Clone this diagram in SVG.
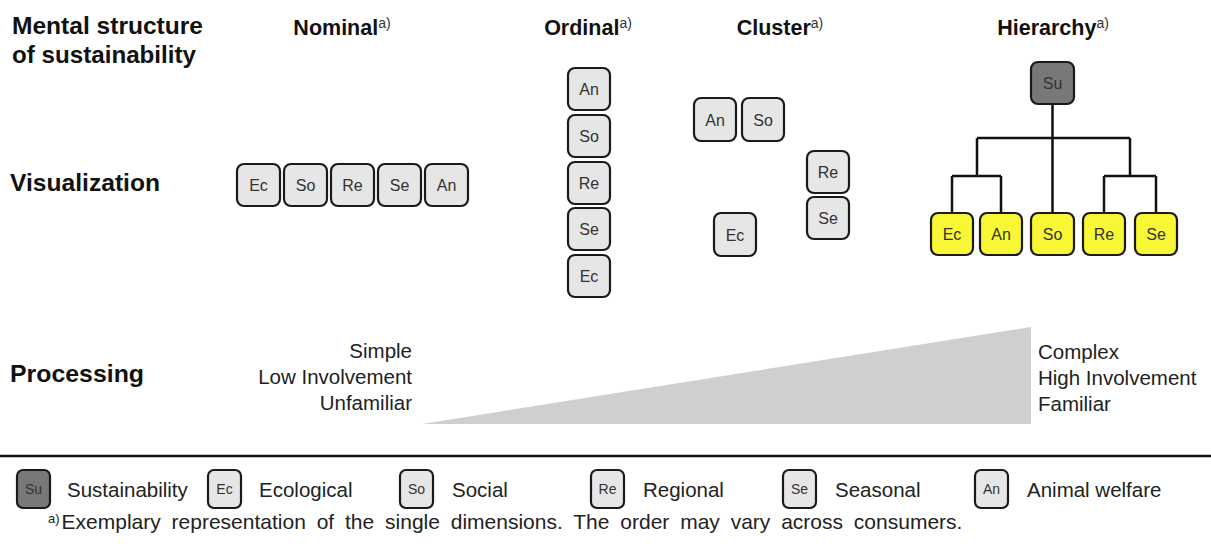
<svg xmlns="http://www.w3.org/2000/svg" width="1211" height="549" viewBox="0 0 1211 549">
<style>
.bx{fill:#e6e6e6;stroke:#1a1a1a;stroke-width:2.2}
.su{fill:#787878;stroke:#1a1a1a;stroke-width:2.2}
.ye{fill:#f7f735;stroke:#1a1a1a;stroke-width:2.2}
.bt{font-family:"Liberation Sans",Arial,sans-serif;font-size:16px;fill:#333;text-anchor:middle}
.lt{font-family:"Liberation Sans",Arial,sans-serif;font-size:14px;fill:#333;text-anchor:middle}
.hd{font-family:"Liberation Sans",Arial,sans-serif;font-weight:bold;font-size:21.5px;fill:#111;text-anchor:middle}
.lb{font-family:"Liberation Sans",Arial,sans-serif;font-weight:bold;font-size:24px;fill:#111}
.sp{font-family:"Liberation Sans",Arial,sans-serif;font-weight:normal;font-size:14px;fill:#333}
.pr{font-family:"Liberation Sans",Arial,sans-serif;font-size:20.5px;fill:#222}
.lg{font-family:"Liberation Sans",Arial,sans-serif;font-size:20.5px;fill:#222}
.fn{font-family:"Liberation Sans",Arial,sans-serif;font-size:21px;fill:#222;word-spacing:5px}
.ln{fill:none;stroke:#111;stroke-width:2.5}
</style>

<g id="labels">
<text class="lb" x="12" y="34" textLength="191" lengthAdjust="spacingAndGlyphs">Mental structure</text>
<text class="lb" x="12" y="63" textLength="184" lengthAdjust="spacingAndGlyphs">of sustainability</text>
<text class="lb" x="10" y="191" textLength="150" lengthAdjust="spacingAndGlyphs">Visualization</text>
<text class="lb" x="10" y="382" textLength="134" lengthAdjust="spacingAndGlyphs">Processing</text>
</g>

<g id="headers">
<text class="hd" x="342" y="35">Nominal<tspan class="sp" dy="-7">a)</tspan></text>
<text class="hd" x="588" y="35">Ordinal<tspan class="sp" dy="-7">a)</tspan></text>
<text class="hd" x="780" y="35">Cluster<tspan class="sp" dy="-7">a)</tspan></text>
<text class="hd" x="1053" y="35">Hierarchy<tspan class="sp" dy="-7">a)</tspan></text>
</g>

<g id="nominal">
<g id="nom-ec"><rect class="bx" x="237" y="164" width="43" height="42" rx="7"/><text class="bt" x="258.5" y="191">Ec</text></g>
<g id="nom-so"><rect class="bx" x="284" y="164" width="43" height="42" rx="7"/><text class="bt" x="305.5" y="191">So</text></g>
<g id="nom-re"><rect class="bx" x="331" y="164" width="43" height="42" rx="7"/><text class="bt" x="352.5" y="191">Re</text></g>
<g id="nom-se"><rect class="bx" x="378" y="164" width="43" height="42" rx="7"/><text class="bt" x="399.5" y="191">Se</text></g>
<g id="nom-an"><rect class="bx" x="425" y="164" width="43" height="42" rx="7"/><text class="bt" x="446.5" y="191">An</text></g>
</g>

<g id="ordinal">
<g id="ord-an"><rect class="bx" x="568" y="68" width="42" height="42" rx="7"/><text class="bt" x="589" y="95">An</text></g>
<g id="ord-so"><rect class="bx" x="568" y="115" width="42" height="42" rx="7"/><text class="bt" x="589" y="142">So</text></g>
<g id="ord-re"><rect class="bx" x="568" y="162" width="42" height="42" rx="7"/><text class="bt" x="589" y="189">Re</text></g>
<g id="ord-se"><rect class="bx" x="568" y="208" width="42" height="42" rx="7"/><text class="bt" x="589" y="235">Se</text></g>
<g id="ord-ec"><rect class="bx" x="568" y="255" width="42" height="42" rx="7"/><text class="bt" x="589" y="282">Ec</text></g>
</g>

<g id="cluster">
<g id="clu-an"><rect class="bx" x="694" y="98" width="42" height="43" rx="7"/><text class="bt" x="715" y="125.5">An</text></g>
<g id="clu-so"><rect class="bx" x="742" y="98" width="42" height="43" rx="7"/><text class="bt" x="763" y="125.5">So</text></g>
<g id="clu-re"><rect class="bx" x="807" y="151" width="42" height="42" rx="7"/><text class="bt" x="828" y="177.5">Re</text></g>
<g id="clu-se"><rect class="bx" x="807" y="197" width="42" height="42" rx="7"/><text class="bt" x="828" y="223.5">Se</text></g>
<g id="clu-ec"><rect class="bx" x="714" y="213" width="42" height="43" rx="7"/><text class="bt" x="735" y="240.5">Ec</text></g>
</g>

<g id="connectors">
<path class="ln" d="M1052.5 104 V213 M977 138 H1130 M977 138 V176 M952 176 H1001 M952 176 V213 M1001 176 V213 M1130 138 V176 M1104 176 H1156 M1104 176 V213 M1156 176 V213"/>
</g>

<g id="hierarchy">
<g id="hie-su"><rect class="su" x="1031" y="62" width="43" height="42" rx="7"/><text class="bt" x="1052.5" y="89">Su</text></g>
<g id="hie-ec"><rect class="ye" x="931" y="213" width="42" height="42" rx="7"/><text class="bt" x="952" y="240">Ec</text></g>
<g id="hie-an"><rect class="ye" x="980" y="213" width="42" height="42" rx="7"/><text class="bt" x="1001" y="240">An</text></g>
<g id="hie-so"><rect class="ye" x="1031" y="213" width="43" height="42" rx="7"/><text class="bt" x="1052.5" y="240">So</text></g>
<g id="hie-re"><rect class="ye" x="1083" y="213" width="42" height="42" rx="7"/><text class="bt" x="1104" y="240">Re</text></g>
<g id="hie-se"><rect class="ye" x="1135" y="213" width="42" height="42" rx="7"/><text class="bt" x="1156" y="240">Se</text></g>
</g>

<g id="processing">
<polygon points="422,424 1031,327 1031,424" fill="#cfcfcf"/>
<text class="pr" x="412" y="358" text-anchor="end">Simple</text>
<text class="pr" x="412" y="384" text-anchor="end">Low Involvement</text>
<text class="pr" x="412" y="410" text-anchor="end">Unfamiliar</text>
<text class="pr" x="1038" y="359">Complex</text>
<text class="pr" x="1038" y="385">High Involvement</text>
<text class="pr" x="1038" y="411">Familiar</text>
</g>

<line x1="0" y1="456" x2="1211" y2="456" stroke="#111" stroke-width="2.5"/>

<g id="legend">
<g id="leg-su"><rect class="su" x="17" y="470" width="33" height="38" rx="6"/><text class="lt" x="33.5" y="494">Su</text><text class="lg" x="67" y="497">Sustainability</text></g>
<g id="leg-ec"><rect class="bx" x="208" y="470" width="33" height="38" rx="6"/><text class="lt" x="224.5" y="494">Ec</text><text class="lg" x="259" y="497">Ecological</text></g>
<g id="leg-so"><rect class="bx" x="400" y="470" width="33" height="38" rx="6"/><text class="lt" x="416.5" y="494">So</text><text class="lg" x="452" y="497">Social</text></g>
<g id="leg-re"><rect class="bx" x="591" y="470" width="33" height="38" rx="6"/><text class="lt" x="607.5" y="494">Re</text><text class="lg" x="643" y="497">Regional</text></g>
<g id="leg-se"><rect class="bx" x="783" y="470" width="33" height="38" rx="6"/><text class="lt" x="799.5" y="494">Se</text><text class="lg" x="835" y="497">Seasonal</text></g>
<g id="leg-an"><rect class="bx" x="975" y="470" width="33" height="38" rx="6"/><text class="lt" x="991.5" y="494">An</text><text class="lg" x="1027" y="497">Animal welfare</text></g>
</g>

<g id="footnote">
<text class="fn" x="48" y="529"><tspan font-size="13" dy="-6">a)</tspan><tspan dy="6" dx="2">Exemplary representation of the single dimensions. The order may vary across consumers.</tspan></text>
</g>
</svg>
